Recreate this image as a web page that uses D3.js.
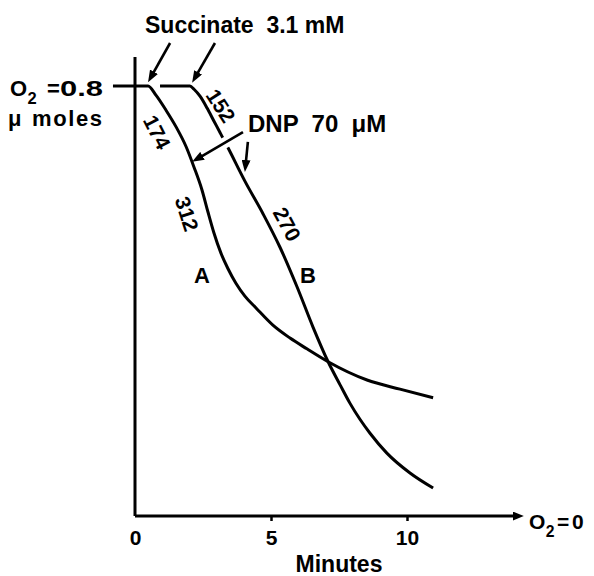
<!DOCTYPE html>
<html>
<head>
<meta charset="utf-8">
<script src="https://cdn.jsdelivr.net/npm/d3@7"></script>
<style>
  body { margin: 0; background: #fff; }
  svg text { font-family: "Liberation Sans", Arial, sans-serif; font-weight: bold; fill: #000; white-space: pre; }
</style>
</head>
<body>
<svg id="chart" width="594" height="576"></svg>
<script>
// --- Data ---
// time in minutes, O2 left in micromoles
const xTicks = [0, 5, 10];
const o2Start = 0.8;

// Trace A: succinate added at ~0.5 min
const curveA = [
    [0, 0.80], [0.48, 0.80], [0.77, 0.783], [1.14, 0.755], [1.51, 0.724],
    [1.88, 0.687], [2.17, 0.649], [2.46, 0.607], [2.68, 0.566], [2.90, 0.527],
    [3.16, 0.489], [3.42, 0.460], [3.71, 0.433], [4.04, 0.409], [4.45, 0.387],
    [5.07, 0.355], [5.70, 0.331], [6.32, 0.311], [7.10, 0.287], [8.53, 0.253],
    [9.74, 0.236], [10.96, 0.220]
];

// Trace B: succinate added at ~2 min
const curveB = [
    [0.92, 0.80], [2.02, 0.80], [2.17, 0.794], [2.39, 0.781], [2.65, 0.759],
    [2.90, 0.735], [3.13, 0.713], [3.42, 0.685], [4.04, 0.623], [4.71, 0.562],
    [5.33, 0.500], [5.96, 0.426], [6.54, 0.352], [7.10, 0.287], [7.54, 0.244],
    [7.90, 0.210], [8.27, 0.180], [8.64, 0.154], [9.26, 0.117], [10.11, 0.080],
    [10.96, 0.052]
];

// Rates written along the traces (before / after DNP)
const ratesA = ["174", "312"];
const ratesB = ["152", "270"];
const traceNames = ["A", "B"];

// --- Scales ---
const svg = d3.select("#chart");
const x = d3.scaleLinear().domain([0, 10]).range([135, 407]);
const y = d3.scaleLinear().domain([0, 0.8]).range([516, 86]);

const line = d3.line()
    .x(d => x(d[0]))
    .y(d => y(d[1]))
    .curve(d3.curveMonotoneX);

// arrowhead markers
const defs = svg.append("defs");
function addMarker(id, w, h) {
    defs.append("marker")
        .attr("id", id)
        .attr("viewBox", `0 0 ${w} ${h}`)
        .attr("refX", 3)
        .attr("refY", h / 2)
        .attr("markerWidth", w)
        .attr("markerHeight", h)
        .attr("markerUnits", "userSpaceOnUse")
        .attr("orient", "auto")
        .append("path")
        .attr("d", `M0,0L${w},${h / 2}L0,${h}Z`)
        .attr("fill", "#000");
}
addMarker("head", 12, 9);
addMarker("axisHead", 11, 9);

// --- Axes ---
// vertical axis (no ticks)
svg.append("line")
    .attr("x1", x(0)).attr("x2", x(0))
    .attr("y1", y(0)).attr("y2", y(0.854))
    .attr("stroke", "#000").attr("stroke-width", 3);

// horizontal axis with arrow to "O2 = 0"
svg.append("line")
    .attr("x1", x(0)).attr("x2", x(14.0))
    .attr("y1", y(0)).attr("y2", y(0))
    .attr("stroke", "#000").attr("stroke-width", 3)
    .attr("marker-end", "url(#axisHead)");

const xAxis = svg.append("g")
    .attr("transform", `translate(0,${y(0)})`)
    .call(d3.axisBottom(x).tickValues(xTicks).tickSize(5).tickPadding(9).tickFormat(d3.format("d")));
xAxis.select(".domain").remove();
xAxis.selectAll(".tick line")
    .attr("stroke", "#000").attr("stroke-width", 2.5)
    .filter(d => d === 0).remove();
xAxis.selectAll(".tick text")
    .attr("font-size", 21)
    .attr("font-family", null);

svg.append("text")
    .attr("x", 339).attr("y", 572)
    .attr("text-anchor", "middle")
    .attr("font-size", 23)
    .text("Minutes");

// "O2 = value" label built from pieces
function o2Label(xp, yp, size, eqX, valX, value) {
    const g = svg.append("g").attr("transform", `translate(${xp},${yp})`);
    g.append("text").attr("font-size", size).text("O");
    g.append("text").attr("x", size * 0.8).attr("y", size * 0.38).attr("font-size", size * 0.75).text("2");
    g.append("text").attr("x", eqX).attr("font-size", size).text("=");
    return g.append("text").attr("x", valX).attr("font-size", size).text(value);
}
o2Label(529, 529, 21, 28, 43, "0");

// O2 = 0.8 umoles at the start level
o2Label(10, 96, 22, 37, 50, "0.8")
    .attr("textLength", 43)
    .attr("lengthAdjust", "spacingAndGlyphs");
svg.append("text")
    .attr("x", 8).attr("y", 126)
    .attr("font-size", 22)
    .text("\u03bc");
svg.append("text")
    .attr("x", 32).attr("y", 126)
    .attr("font-size", 22)
    .attr("textLength", 70)
    .attr("lengthAdjust", "spacing")
    .text("moles");

// leader from the label to the trace level
svg.append("line")
    .attr("x1", x(-0.81)).attr("x2", x(0))
    .attr("y1", y(o2Start)).attr("y2", y(o2Start))
    .attr("stroke", "#000").attr("stroke-width", 3);

// --- Traces ---
[curveA, curveB].forEach(c => {
    svg.append("path")
        .datum(c)
        .attr("d", line)
        .attr("fill", "none")
        .attr("stroke", "#000")
        .attr("stroke-width", 3);
});

// --- Annotations ---
function arrow(from, to, halo) {
    const p0 = [x(from[0]), y(from[1])];
    const p1 = [x(to[0]), y(to[1])];
    const len = Math.hypot(p1[0] - p0[0], p1[1] - p0[1]);
    const ux = (p1[0] - p0[0]) / len, uy = (p1[1] - p0[1]) / len;
    if (halo) {
        // white break where the arrow crosses the other trace
        svg.append("line")
            .attr("x1", p0[0] + ux * len * halo[0]).attr("y1", p0[1] + uy * len * halo[0])
            .attr("x2", p0[0] + ux * len * halo[1]).attr("y2", p0[1] + uy * len * halo[1])
            .attr("stroke", "#fff").attr("stroke-width", 11);
    }
    svg.append("line")
        .attr("x1", p0[0]).attr("y1", p0[1])
        .attr("x2", p1[0] - ux * 9).attr("y2", p1[1] - uy * 9)
        .attr("stroke", "#000").attr("stroke-width", 2.6)
        .attr("marker-end", "url(#head)");
}

svg.append("text")
    .attr("x", 145).attr("y", 33)
    .attr("font-size", 23)
    .text("Succinate  3.1 mM");
arrow([1.29, 0.880], [0.48, 0.807]);
arrow([2.94, 0.880], [2.10, 0.806]);

svg.append("text")
    .attr("x", 248).attr("y", 132)
    .attr("font-size", 24)
    .text("DNP  70  \u03bcM");
arrow([3.97, 0.714], [2.10, 0.659], [0.22, 0.5]);
arrow([4.15, 0.696], [4.04, 0.640]);

// rates along the traces
const rateSpots = [
    { t: 0.81, o2: 0.714, rot: 63 },
    { t: 1.91, o2: 0.562, rot: 72 },
    { t: 3.16, o2: 0.763, rot: 57 },
    { t: 5.59, o2: 0.543, rot: 62 }
];
ratesA.concat(ratesB).forEach((r, i) => {
    const s = rateSpots[i];
    svg.append("text")
        .attr("transform", `translate(${x(s.t)},${y(s.o2)}) rotate(${s.rot})`)
        .attr("text-anchor", "middle")
        .attr("dominant-baseline", "central")
        .attr("font-size", 21)
        .text(r);
});

// trace names
const nameSpots = [[2.46, 0.447], [6.36, 0.448]];
traceNames.forEach((n, i) => {
    svg.append("text")
        .attr("x", x(nameSpots[i][0])).attr("y", y(nameSpots[i][1]))
        .attr("text-anchor", "middle")
        .attr("dominant-baseline", "central")
        .attr("font-size", 22)
        .text(n);
});
</script>
</body>
</html>
